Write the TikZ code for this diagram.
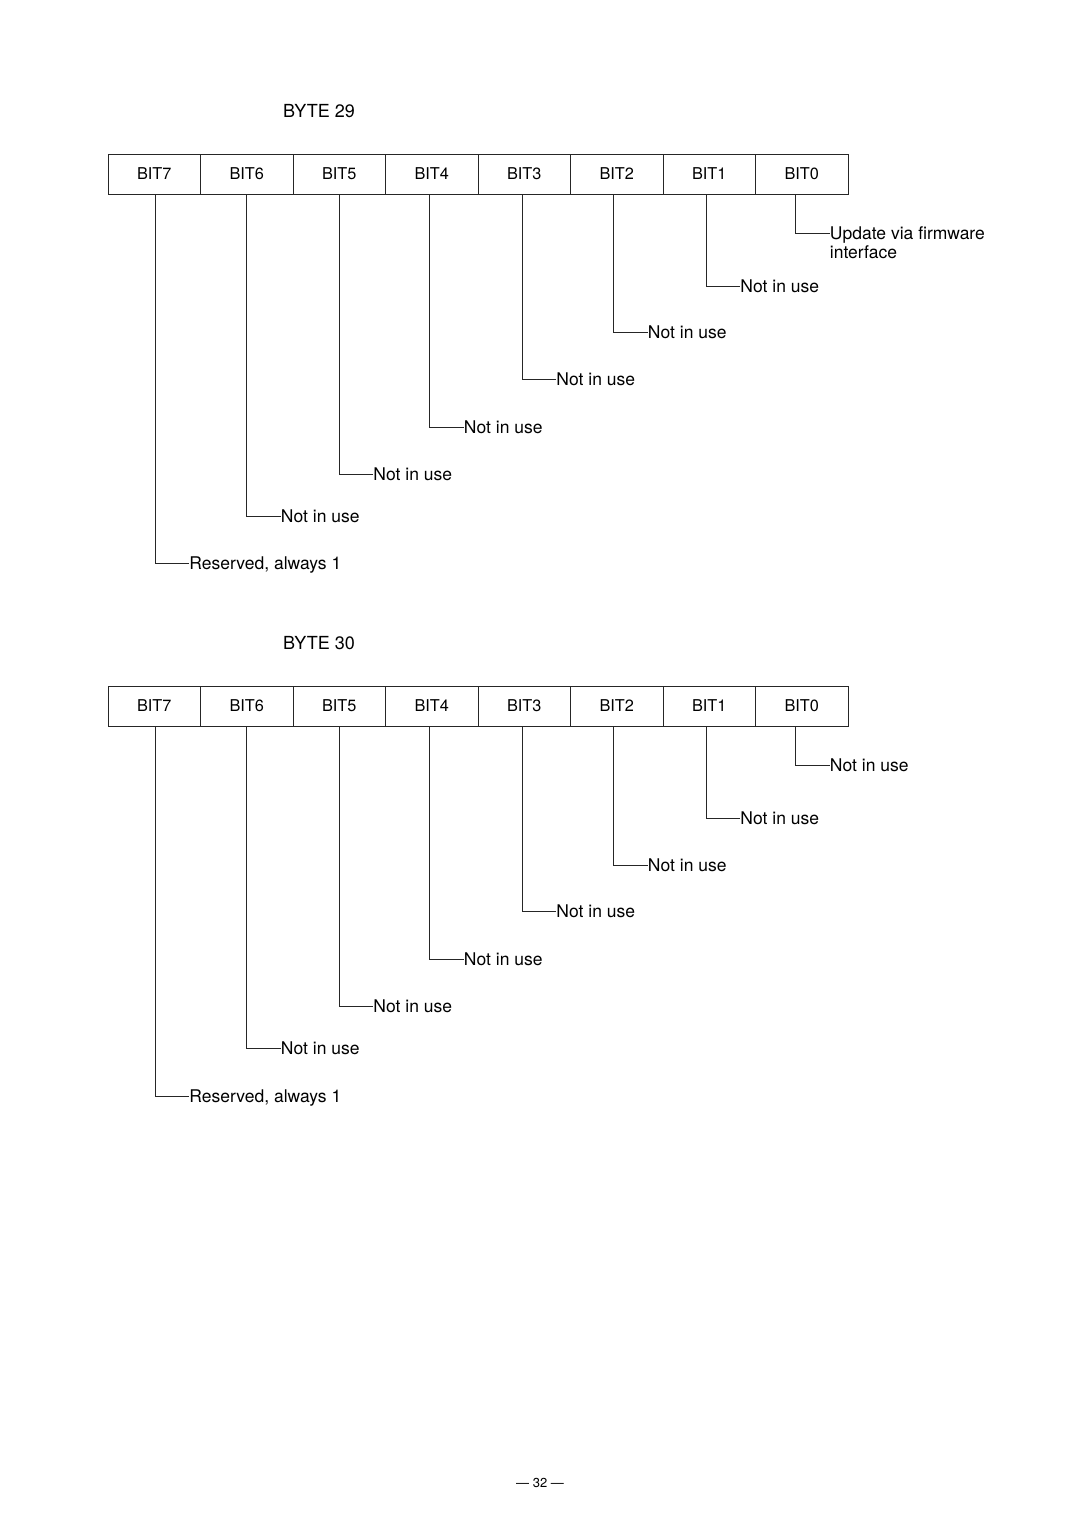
\documentclass[tikz,border=0pt]{standalone}
\usepackage{fontspec}
\setmainfont{TeX Gyre Heros}
\begin{document}
\begin{tikzpicture}[x=1pt,y=-1pt,
  bitbox/.style={draw=black!85, line width=0.9pt, minimum width=92.5pt, minimum height=40pt, inner sep=0pt, font=\fontsize{16.3}{19}\selectfont},
  lbl/.style={inner sep=0pt, anchor=base west, font=\fontsize{17.5}{20.5}\selectfont},
  title/.style={inner sep=0pt, anchor=base, font=\fontsize{18}{21}\selectfont},
  conn/.style={draw=black!85, line width=0.9pt}]
\useasboundingbox (0,0) rectangle (1080,1528);

% ---------- BYTE 29 ----------
\node[title] (t29) at (319,117.5) {BYTE 29};
\foreach \i/\dx/\ly/\txt in {
  7/1/563/{Reserved, always 1},
  6/0/516/{Not in use},
  5/0/474/{Not in use},
  4/-2/427/{Not in use},
  3/-2/379/{Not in use},
  2/-3/332/{Not in use},
  1/-3/286/{Not in use},
  0/-6/233/{\begin{tabular}[t]{@{}l@{}}Update via firmware\\[-1pt]interface\end{tabular}}}{
  \pgfmathsetmacro{\bx}{108+92.5*(7-\i)+46.25}
  \pgfmathsetmacro{\lx}{\bx+\dx+34}
  \node[bitbox] (b29-\i) at (\bx,174) {\ifnum\i=7 \raisebox{-2pt}{BIT\i}\else BIT\i\fi};
  \node[lbl] (l29-\i) at (\lx,\ly+6) {\txt};
  \draw[conn] ([xshift=\dx pt]b29-\i.south) |- ([yshift=6pt]l29-\i.base west);
}

% ---------- BYTE 30 ----------
\node[title] (t30) at (319,649.5) {BYTE 30};
\foreach \i/\dx/\ly/\txt in {
  7/1/1096/{Reserved, always 1},
  6/0/1048/{Not in use},
  5/0/1006/{Not in use},
  4/-2/959/{Not in use},
  3/-2/911/{Not in use},
  2/-3/865/{Not in use},
  1/-3/818/{Not in use},
  0/-6/765/{Not in use}}{
  \pgfmathsetmacro{\bx}{108+92.5*(7-\i)+46.25}
  \pgfmathsetmacro{\lx}{\bx+\dx+34}
  \node[bitbox] (b30-\i) at (\bx,706) {\ifnum\i=7 \raisebox{-2pt}{BIT\i}\else BIT\i\fi};
  \node[lbl] (l30-\i) at (\lx,\ly+6) {\txt};
  \draw[conn] ([xshift=\dx pt]b30-\i.south) |- ([yshift=6pt]l30-\i.base west);
}

% ---------- page number ----------
\node[inner sep=0pt, font=\fontsize{13}{15}\selectfont] (pg) at (540,1483) {— 32 —};
\end{tikzpicture}
\end{document}
